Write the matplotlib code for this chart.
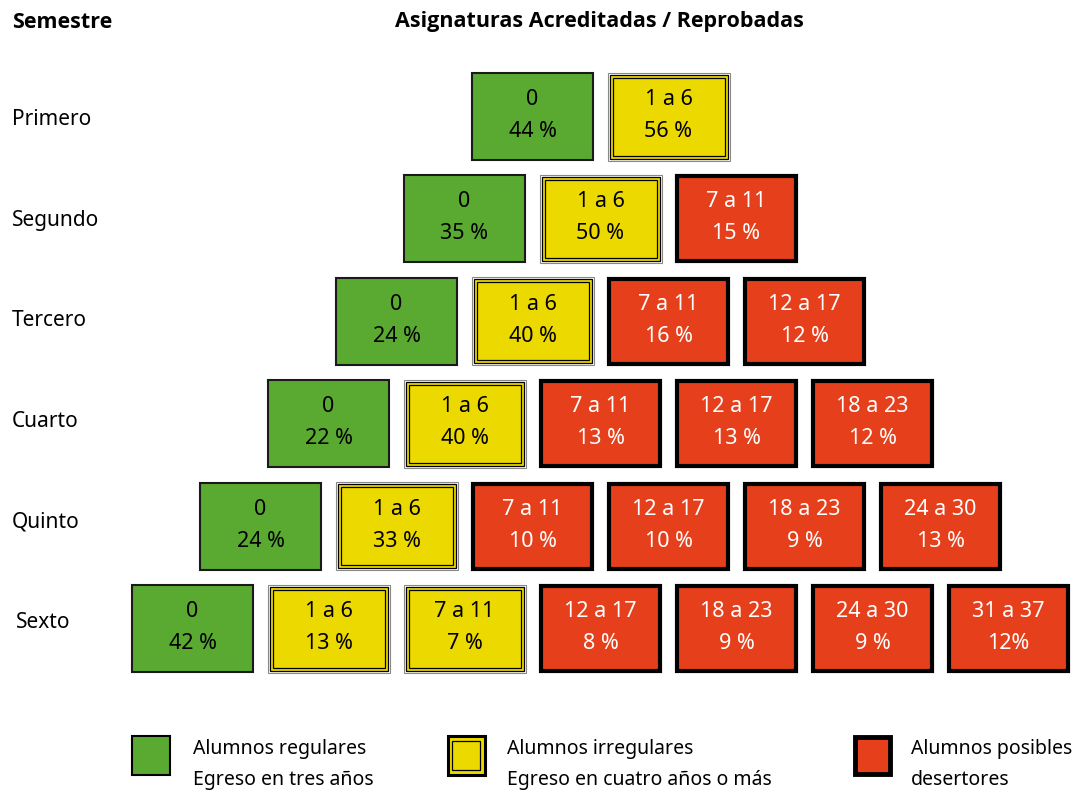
import matplotlib.pyplot as plt
from matplotlib.patches import Rectangle

plt.rcParams['font.family'] = ['Noto Sans', 'DejaVu Sans']

# datos
semestres = ['Primero', 'Segundo', 'Tercero', 'Cuarto', 'Quinto', 'Sexto']
rangos = [
    ['0', '1 a 6'],
    ['0', '1 a 6', '7 a 11'],
    ['0', '1 a 6', '7 a 11', '12 a 17'],
    ['0', '1 a 6', '7 a 11', '12 a 17', '18 a 23'],
    ['0', '1 a 6', '7 a 11', '12 a 17', '18 a 23', '24 a 30'],
    ['0', '1 a 6', '7 a 11', '12 a 17', '18 a 23', '24 a 30', '31 a 37'],
]
porcentajes = [
    ['44 %', '56 %'],
    ['35 %', '50 %', '15 %'],
    ['24 %', '40 %', '16 %', '12 %'],
    ['22 %', '40 %', '13 %', '13 %', '12 %'],
    ['24 %', '33 %', '10 %', '10 %', '9 %', '13 %'],
    ['42 %', '13 %', '7 %', '8 %', '9 %', '9 %', '12%'],
]
# 0 = regular, 1 = irregular, 2 = posible desertor
tipos = [
    [0, 1],
    [0, 1, 2],
    [0, 1, 2, 2],
    [0, 1, 2, 2, 2],
    [0, 1, 2, 2, 2, 2],
    [0, 1, 1, 2, 2, 2, 2],
]
leyenda = [
    ('Alumnos regulares', 'Egreso en tres años'),
    ('Alumnos irregulares', 'Egreso en cuatro años o más'),
    ('Alumnos posibles', 'desertores'),
]

VERDE = '#5aaa32'
AMARILLO = '#ecd900'
ROJO = '#e5401b'

fig = plt.figure(figsize=(10.75, 7.91), dpi=100)
ax = fig.add_axes([0, 0, 1, 1])
ax.set_xlim(0, 1075)
ax.set_ylim(791, 0)
ax.axis('off')

X0, PX = 131, 136
Y0, PY = 72, 102.4
W, H = 123, 89


def caja(x, y, w, h, tipo):
    if tipo == 0:
        ax.add_patch(Rectangle((x + 1, y + 1), w - 2, h - 2, facecolor=VERDE,
                               edgecolor='#1a1a1a', lw=1.5))
    elif tipo == 1:
        ax.add_patch(Rectangle((x + 0.5, y + 0.5), w - 1, h - 1, facecolor='white',
                               edgecolor='#888888', lw=0.8))
        ax.add_patch(Rectangle((x + 2.5, y + 2.5), w - 5, h - 5, facecolor=AMARILLO,
                               edgecolor='black', lw=0.9))
        ax.add_patch(Rectangle((x + 5.5, y + 5.5), w - 11, h - 11, facecolor='none',
                               edgecolor='black', lw=0.9))
    else:
        ax.add_patch(Rectangle((x + 2, y + 2), w - 4, h - 4, facecolor=ROJO,
                               edgecolor='black', lw=3))


for r, sem in enumerate(semestres):
    y = Y0 + PY * r
    ax.text(12 if r != 5 else 16, y + H / 2 + 3 - 1.8 * r, sem, fontsize=15,
            va='center', ha='left')
    offset = (len(semestres) - 1 - r) * 0.5
    for j, (rg, pc, t) in enumerate(zip(rangos[r], porcentajes[r], tipos[r])):
        x = X0 + PX * (offset + j)
        caja(x, y, W, H, t)
        col = 'white' if t == 2 else 'black'
        ax.text(x + W / 2, y + H / 2 - 17, rg, fontsize=15.5, ha='center', va='center', color=col)
        ax.text(x + W / 2, y + H / 2 + 15, pc, fontsize=15.5, ha='center', va='center', color=col)

titulo = dict(fontsize=15.5, fontweight='bold', family=['Open Sans', 'DejaVu Sans'], va='center')
ax.text(12, 22, 'Semestre', ha='left', **titulo)
ax.text(599, 22, 'Asignaturas Acreditadas / Reprobadas', ha='center', **titulo)

# leyenda
for (x_sq, x_txt), t, (l1, l2) in zip([(131, 193), (446, 507), (852, 911)], [0, 1, 2], leyenda):
    if t == 0:
        ax.add_patch(Rectangle((x_sq + 1, 736), 38, 39, facecolor=VERDE, edgecolor='black', lw=1.5))
    elif t == 1:
        ax.add_patch(Rectangle((x_sq + 1.5, 736), 37, 39, facecolor=AMARILLO, edgecolor='black', lw=2.2))
        ax.add_patch(Rectangle((x_sq + 6, 741), 28, 29, facecolor='none', edgecolor='black', lw=0.9))
    else:
        ax.add_patch(Rectangle((x_sq + 2.5, 737), 35, 37, facecolor=ROJO, edgecolor='black', lw=3.5))
    ax.text(x_txt, 749, l1, fontsize=14, va='center', ha='left')
    ax.text(x_txt, 780, l2, fontsize=14, va='center', ha='left')

fig.savefig('out.png', dpi=100)
